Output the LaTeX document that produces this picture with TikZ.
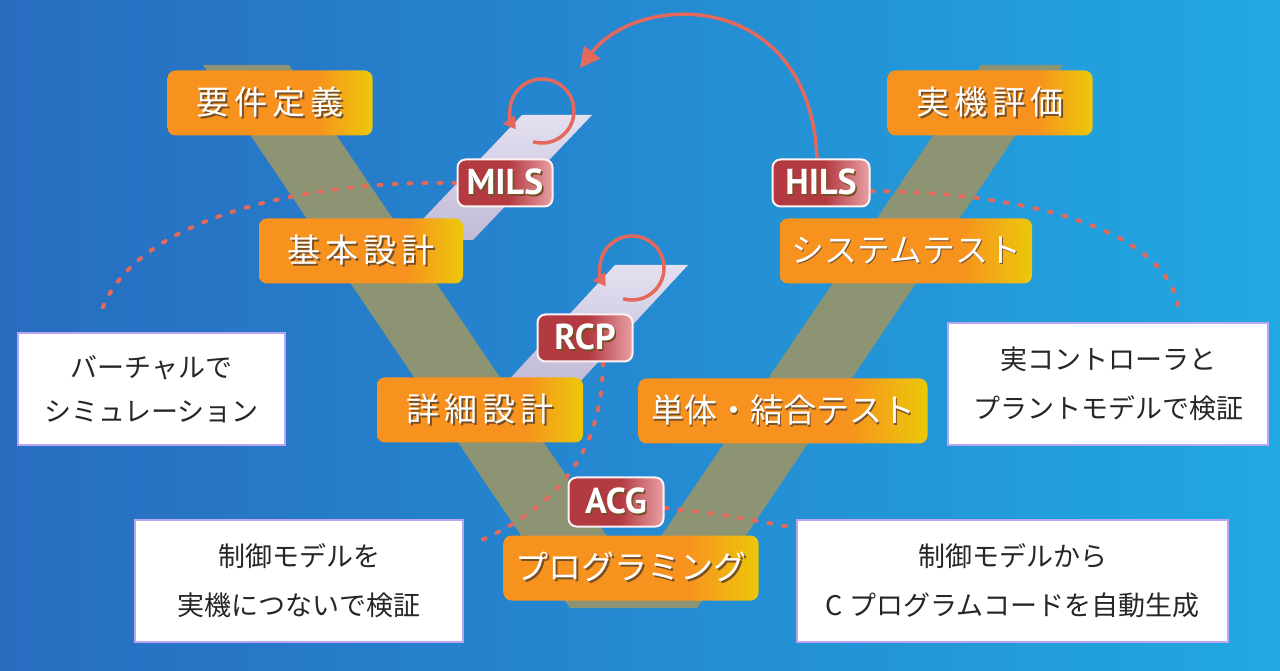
\documentclass[tikz,border=0pt]{standalone}
\usepackage{fontspec}
\usepackage{tikz}
\usetikzlibrary{arrows.meta, positioning, shadings}
\newfontfamily\jpfont{Noto Sans CJK JP}
\newfontfamily\jpwide[LetterSpace=15]{Noto Sans CJK JP}
\newfontfamily\labfont{PT Sans}
\definecolor{bgleft}{RGB}{40,108,192}
\definecolor{bgright}{RGB}{33,168,226}
\definecolor{vband}{RGB}{141,148,116}
\definecolor{boxorange}{RGB}{247,146,30}
\definecolor{boxyellow}{RGB}{236,200,10}
\definecolor{labred}{RGB}{180,58,66}
\definecolor{labpink}{RGB}{232,160,165}
\definecolor{loopred}{RGB}{228,104,92}
\definecolor{notegray}{RGB}{38,38,38}
\definecolor{noteedge}{RGB}{185,165,240}
\definecolor{stripdark}{RGB}{192,186,214}
\definecolor{striplight}{RGB}{228,224,240}
\definecolor{txtshadow}{RGB}{120,80,40}
\pgfdeclarehorizontalshading{orangebar}{100bp}{color(0bp)=(boxorange); color(25bp)=(boxorange); color(61bp)=(boxorange); color(75bp)=(boxyellow); color(100bp)=(boxyellow)}
\pgfdeclarehorizontalshading{redbar}{100bp}{color(0bp)=(labred); color(25bp)=(labred); color(52bp)=(labred); color(75bp)=(labpink); color(100bp)=(labpink)}
\newcommand{\shtxt}[1]{\leavevmode\rlap{\kern1.6pt\raisebox{-1.6pt}{\textcolor{txtshadow}{#1}}}#1}
\pgfdeclarelayer{bg}
\pgfdeclarelayer{mid}
\pgfsetlayers{bg,mid,main}

\begin{document}
\begin{tikzpicture}[x=1pt, y=1pt,
    stagebox/.style={rectangle, rounded corners=8pt, shading=orangebar, minimum height=65pt, inner sep=0pt, text=white, font=\jpfont\fontsize{33}{36}\selectfont},
    kanjibox/.style={stagebox, font=\jpwide\fontsize{33}{36}\selectfont},
    techlabel/.style={rectangle, rounded corners=8pt, shading=redbar, draw=white!85!labpink, line width=2pt, minimum width=95pt, minimum height=47pt, inner sep=0pt, text=white, font=\labfont\bfseries\fontsize{36}{38}\selectfont},
    notebox/.style={rectangle, fill=white, draw=noteedge, line width=2.5pt, inner sep=0pt, align=center, text=notegray, font=\jpfont\fontsize{27}{49}\selectfont},
    dotline/.style={loopred, line width=4pt, line cap=round, dash pattern=on 3pt off 12pt},
    loopar/.style={loopred, line width=3.5pt, -{Triangle[length=12pt, width=14pt]}},
    bigarrow/.style={loopred, line width=3.5pt, -{Triangle[length=20pt, width=20pt]}},
]
    \useasboundingbox (0,0) rectangle (1280,670);

    % V-model stages
    \node[kanjibox, minimum width=205pt] (youken) at (270,567) {\shtxt{要件定義}};
    \node[kanjibox, minimum width=204pt] (kihon) at (361,419) {\shtxt{基本設計}};
    \node[kanjibox, minimum width=206pt] (shousai) at (480,260) {\shtxt{詳細設計}};
    \node[stagebox, minimum width=255pt] (prog) at (631,102) {\shtxt{プログラミング}};
    \node[stagebox, minimum width=289pt] (tantai) at (783,259) {\shtxt{単体・結合テスト}};
    \node[stagebox, minimum width=252pt] (systest) at (906,419) {\shtxt{システムテスト}};
    \node[kanjibox, minimum width=205pt] (jikki) at (990,567) {\shtxt{実機評価}};

    % Tool labels
    \node[techlabel] (mils) at (505,487) {\shtxt{MILS}};
    \node[techlabel, minimum width=97pt] (hils) at (821,487) {\shtxt{HILS}};
    \node[techlabel] (rcp) at (585,332) {\shtxt{RCP}};
    \node[techlabel, minimum height=49pt] (acg) at (616,168) {\shtxt{ACG}};

    % Notes
    \node[notebox, minimum width=267pt, minimum height=112pt, font=\jpfont\fontsize{27}{44}\selectfont] (virtual) at (151.5,281) {バーチャルで\\シミュレーション};
    \node[notebox, minimum width=328pt, minimum height=122pt] (realmachine) at (299,89) {制御モデルを\\実機につないで検証};
    \node[notebox, minimum width=320pt, minimum height=122pt] (plant) at (1108,286) {実コントローラと\\プラントモデルで検証};
    \node[notebox, minimum width=431pt, minimum height=122pt] (codegen) at (1012.5,89) {制御モデルから\\C プログラムコードを自動生成};

    % free ends
    \coordinate (simend) at (100,355);
    \coordinate (ctrlend) at (1178,365);
    \coordinate (rcpend) at (482,130);
    \coordinate (acgend) at (790,143);
    \coordinate (hilsend) at (580,602);
    \coordinate (milsloop) at (542,559);
    \coordinate (rcploop) at (632,402);

    \begin{pgfonlayer}{bg}
        \shade[left color=bgleft, right color=bgright] (0,0) rectangle (1280,670);
        \fill[vband] (203,605) -- (289,605) -- (634,94) -- (981,605) -- (1063,605) -- (697,62) -- (570,62) -- cycle;
        \shade[bottom color=stripdark, top color=striplight] (403,430) -- (473,430) -- (592,555) -- (522,555) -- cycle;
        \shade[bottom color=stripdark, top color=striplight] (504,285) -- (577,285) -- (688,405) -- (615,405) -- cycle;
    \end{pgfonlayer}

    \begin{pgfonlayer}{mid}
        \draw[dotline] (mils.west) .. controls (300,490) and (130,450) .. (simend);
        \draw[dotline] ([yshift=-8pt]hils.east) .. controls (1000,478) and (1160,450) .. (ctrlend);
        \draw[dotline] ([xshift=18pt]rcp.south) .. controls (602,230) and (570,170) .. (rcpend);
        \draw[dotline] ([yshift=-6pt]acg.east) .. controls (720,156) .. (acgend);
        \draw[loopar] ([shift={(-106:32)}]milsloop) arc[start angle=-106, end angle=215, radius=32];
        \draw[loopar] ([shift={(-106:32)}]rcploop) arc[start angle=-106, end angle=215, radius=32];
        \draw[bigarrow] ([xshift=-4pt]hils.north) .. controls (810,680) and (640,680) .. (hilsend);
    \end{pgfonlayer}
\end{tikzpicture}
\end{document}
